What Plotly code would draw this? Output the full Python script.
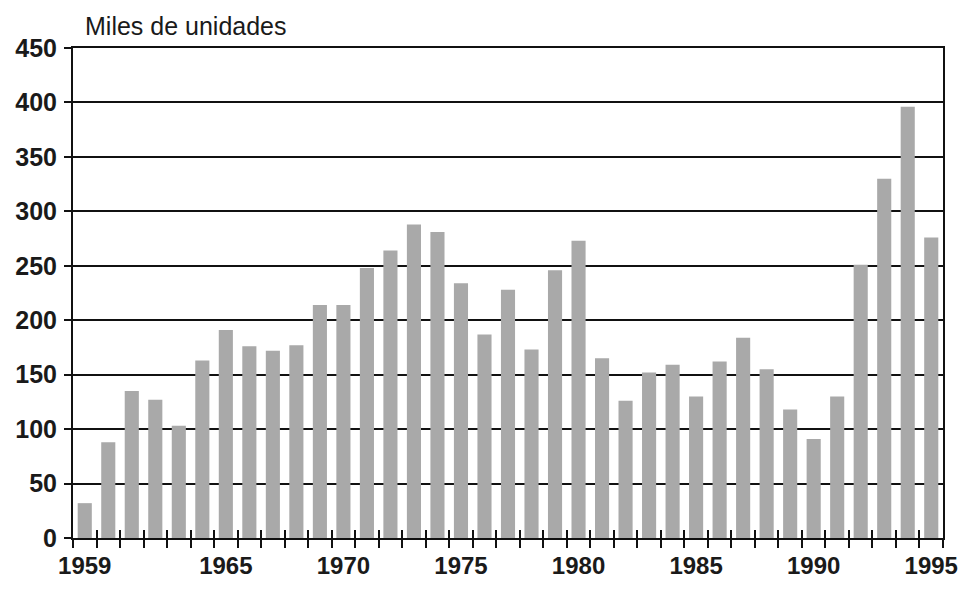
import plotly.graph_objects as go

years = list(range(1959, 1996))
values = [32, 88, 135, 127, 103, 163, 191, 176, 172, 177, 214, 214, 248, 264,
          288, 281, 234, 187, 228, 173, 246, 273, 165, 126, 152, 159, 130, 162,
          184, 155, 118, 91, 130, 251, 330, 396, 276]
label_years = [1959, 1965, 1970, 1975, 1980, 1985, 1990, 1995]
y_ticks = list(range(0, 451, 50))

FONT = "Liberation Sans, Arial, sans-serif"

fig = go.Figure()
fig.add_trace(go.Bar(x=years, y=values, marker=dict(color="#a9a9a9", line=dict(width=0)),
                     width=0.6, hoverinfo="x+y"))
# empty trace to activate the overlay axis that draws the inner half of the ticks
fig.add_trace(go.Scatter(x=[], y=[], xaxis="x2", yaxis="y", showlegend=False))

fig.update_layout(
    width=952, height=574,
    margin=dict(l=65, r=17, t=40, b=44),
    paper_bgcolor="white", plot_bgcolor="white",
    showlegend=False,
    font=dict(family=FONT, color="#1a1a1a"),
    xaxis=dict(
        range=[1958.5, 1995.5], automargin=False,
        tickmode="array", tickvals=label_years,
        ticktext=[str(y) for y in label_years],
        ticks="", showgrid=False, zeroline=False,
        showline=True, linecolor="#111", linewidth=2, mirror=True,
        tickfont=dict(size=24, family=FONT, color="#1a1a1a", weight="bold"),
        ticklabelstandoff=5, ticklabeloverflow="allow",
        minor=dict(tick0=1958.5, dtick=1, ticks="outside", ticklen=8,
                   tickwidth=2, tickcolor="#111", showgrid=False),
    ),
    xaxis2=dict(
        overlaying="x", matches="x", anchor="y", automargin=False,
        range=[1958.5, 1995.5],
        tickmode="linear", tick0=1958.5, dtick=1,
        ticks="inside", ticklen=8, tickwidth=2, tickcolor="#111",
        showticklabels=False, showgrid=False, zeroline=False, showline=False,
        side="bottom",
    ),
    yaxis=dict(
        range=[0, 450], tickvals=y_ticks, automargin=False,
        ticks="outside", ticklen=7, tickwidth=2, tickcolor="#111",
        showgrid=True, gridcolor="#111", gridwidth=1.6,
        zeroline=False,
        showline=True, linecolor="#111", linewidth=2, mirror=True,
        tickfont=dict(size=25, family=FONT, color="#1a1a1a", weight="bold"),
        ticklabelstandoff=2,
    ),
    bargap=0.4,
    annotations=[dict(
        text="Miles de unidades", xref="paper", yref="paper",
        x=0.0, y=1.0, xshift=10, yshift=6,
        xanchor="left", yanchor="bottom", showarrow=False,
        font=dict(size=25, family=FONT, color="#1a1a1a"),
    )],
)

fig.write_html("out.html")
